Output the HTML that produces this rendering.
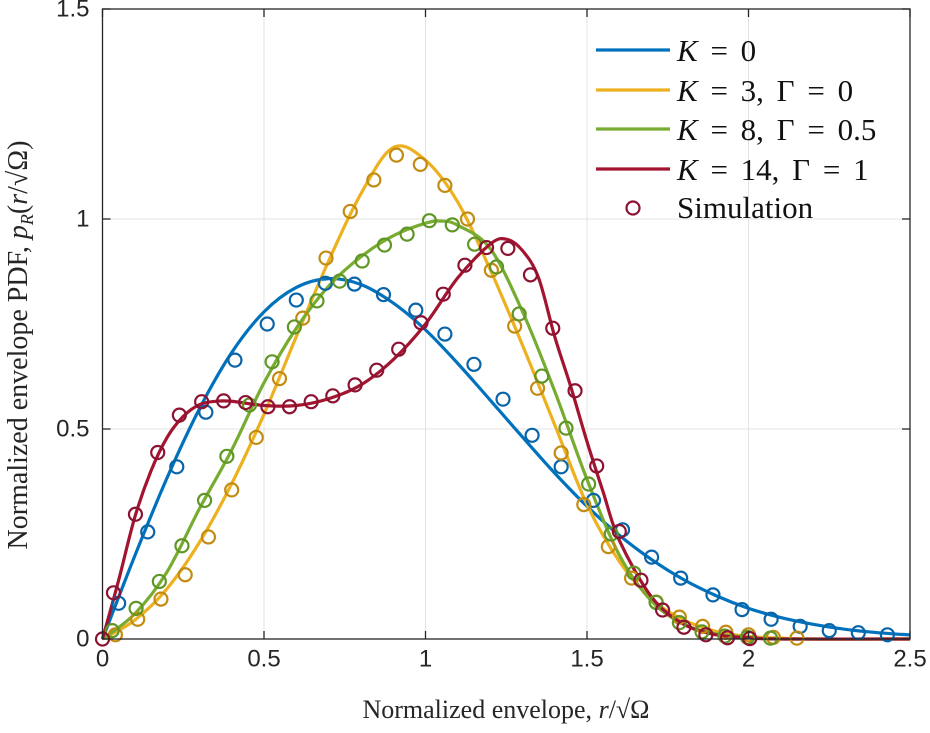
<!DOCTYPE html>
<html><head><meta charset="utf-8">
<style>
html,body{margin:0;padding:0;background:#fff;}
svg text{font-family:"Liberation Sans",sans-serif;}
svg text.serif, svg .serif text{font-family:"Liberation Serif",serif;}
</style></head>
<body>
<svg id="chart" width="930" height="728" viewBox="0 0 930 728" xmlns="http://www.w3.org/2000/svg">
<g id="grid"></g>
<g id="series"></g>
<g id="axes"></g>
</svg>
<script>
const xTicks=[0,0.5,1,1.5,2,2.5];
const xTickLabels=["0","0.5","1","1.5","2","2.5"];
const yTicks=[0,0.5,1,1.5];
const yTickLabels=["0","0.5","1","1.5"];

const blueX=[0,0.1,0.2,0.3,0.4,0.5,0.6,0.7,0.8,0.9,1.0,1.1,1.2,1.3,1.4,1.5,1.6,1.7,1.8,1.9,2.0,2.1,2.2,2.3,2.4,2.5];
const blueY=[0,0.198,0.384,0.548,0.682,0.779,0.837,0.858,0.844,0.800,0.736,0.656,0.569,0.481,0.395,0.316,0.247,0.189,0.141,0.103,0.073,0.051,0.035,0.023,0.015,0.0097];
const yellowX=[0,0.1,0.2,0.3,0.4,0.5,0.6,0.7,0.8,0.9,1.0,1.1,1.2,1.3,1.4,1.5,1.6,1.7,1.8,1.9,2.0,2.1,2.2,2.5];
const yellowY=[0,0.045,0.12,0.23,0.37,0.535,0.72,0.90,1.06,1.17,1.14,1.04,0.88,0.70,0.51,0.32,0.185,0.095,0.045,0.018,0.006,0.002,0,0];
const greenX=[0,0.1,0.2,0.3,0.4,0.5,0.6,0.7,0.8,0.9,1.0,1.05,1.1,1.2,1.3,1.4,1.5,1.6,1.7,1.8,1.9,2.0,2.1,2.5];
const greenY=[0,0.06,0.16,0.31,0.45,0.61,0.74,0.84,0.91,0.96,0.99,0.995,0.985,0.93,0.78,0.59,0.38,0.20,0.09,0.035,0.012,0.004,0,0];
const redX=[0,0.05,0.1,0.15,0.2,0.25,0.3,0.35,0.4,0.5,0.6,0.7,0.8,0.9,1.0,1.1,1.2,1.25,1.3,1.35,1.4,1.45,1.5,1.55,1.6,1.7,1.8,1.9,2.0,2.1,2.5];
const redY=[0,0.14,0.29,0.40,0.48,0.53,0.558,0.566,0.566,0.556,0.556,0.572,0.605,0.665,0.75,0.86,0.94,0.952,0.925,0.86,0.72,0.60,0.47,0.35,0.235,0.10,0.035,0.01,0.003,0,0];

const blueSimX=[0.05,0.14,0.23,0.32,0.41,0.51,0.60,0.69,0.78,0.87,0.97,1.06,1.15,1.24,1.33,1.42,1.52,1.61,1.70,1.79,1.89,1.98,2.07,2.16,2.25,2.34,2.43];
const blueSimY=[0.085,0.255,0.41,0.54,0.664,0.75,0.807,0.847,0.845,0.82,0.783,0.726,0.654,0.571,0.485,0.41,0.33,0.26,0.195,0.145,0.105,0.07,0.047,0.03,0.02,0.015,0.01];
const yellowSimX=[0.04,0.109,0.181,0.256,0.328,0.40,0.476,0.548,0.62,0.692,0.767,0.84,0.91,0.984,1.06,1.13,1.204,1.276,1.347,1.42,1.49,1.566,1.638,1.714,1.786,1.858,1.93,2.0,2.077,2.15];
const yellowSimY=[0.01,0.047,0.095,0.153,0.243,0.355,0.48,0.62,0.764,0.907,1.018,1.093,1.152,1.13,1.08,1.0,0.878,0.745,0.597,0.443,0.32,0.22,0.145,0.088,0.052,0.03,0.016,0.01,0.004,0.002];
const greenSimX=[0.03,0.104,0.176,0.246,0.316,0.385,0.455,0.525,0.594,0.664,0.734,0.804,0.873,0.943,1.012,1.083,1.152,1.22,1.29,1.36,1.435,1.505,1.575,1.645,1.714,1.786,1.856,1.927,1.997,2.068];
const greenSimY=[0.02,0.073,0.137,0.222,0.33,0.435,0.557,0.66,0.743,0.805,0.852,0.90,0.938,0.964,0.996,0.986,0.94,0.886,0.774,0.626,0.502,0.369,0.25,0.157,0.087,0.039,0.017,0.007,0.004,0.002];
const redSimX=[0,0.034,0.102,0.171,0.238,0.307,0.375,0.443,0.512,0.579,0.646,0.713,0.782,0.849,0.917,0.986,1.055,1.122,1.189,1.255,1.325,1.394,1.463,1.53,1.6,1.667,1.734,1.8,1.868,1.935,2.004];
const redSimY=[0,0.11,0.297,0.444,0.533,0.565,0.567,0.563,0.553,0.553,0.565,0.579,0.605,0.64,0.69,0.753,0.821,0.89,0.932,0.93,0.867,0.74,0.591,0.412,0.256,0.14,0.069,0.028,0.01,0.003,0.001];

const X0=102.5,X1=910,Y0=639,Y1=9;
const sx=v=>X0+(v/2.5)*(X1-X0);
const sy=v=>Y0-(v/1.5)*(Y0-Y1);
const NS="http://www.w3.org/2000/svg";
function mk(tag,parent,attrs){const e=document.createElementNS(NS,tag);for(const k in attrs)e.setAttribute(k,attrs[k]);parent.appendChild(e);return e;}

const grid=document.getElementById('grid');
xTicks.forEach((t,i)=>{if(i>0&&i<xTicks.length-1){const l=mk('line',grid,{x1:sx(t),x2:sx(t),y1:Y1,y2:Y0,stroke:'#e3e3e3','stroke-width':1});

}});
yTicks.forEach((t,i)=>{if(i>0&&i<yTicks.length-1){const l=mk('line',grid,{x1:X0,x2:X1,y1:sy(t),y2:sy(t),stroke:'#e3e3e3','stroke-width':1});

}});

function pathFrom(xs,ys){
  const p=xs.map((x,i)=>[sx(x),sy(ys[i])]);
  let d=`M${p[0][0]},${p[0][1]}`;
  for(let i=0;i<p.length-1;i++){
    const a=p[Math.max(0,i-1)],b=p[i],c=p[i+1],e=p[Math.min(p.length-1,i+2)];
    const c1=[b[0]+(c[0]-a[0])/6,b[1]+(c[1]-a[1])/6];
    const c2=[c[0]-(e[0]-b[0])/6,c[1]-(e[1]-b[1])/6];
    d+=` C${c1[0]},${c1[1]} ${c2[0]},${c2[1]} ${c[0]},${c[1]}`;
  }
  return d;
}
const ser=document.getElementById('series');
const lines=[[blueX,blueY,'#0072BD','curve-k0'],[yellowX,yellowY,'#EDB120','curve-k3'],[greenX,greenY,'#77AC30','curve-k8'],[redX,redY,'#A2142F','curve-k14']];
const sims=[[blueSimX,blueSimY,'#0a64a8','sim-k0'],[yellowSimX,yellowSimY,'#c28c12','sim-k3'],[greenSimX,greenSimY,'#5f9626','sim-k8'],[redSimX,redSimY,'#8c1232','sim-k14']];
lines.forEach(([xs,ys,c,n])=>{const p=mk('path',ser,{d:pathFrom(xs,ys),fill:'none',stroke:c,'stroke-width':3.2,'stroke-linejoin':'round'});

});
sims.forEach(([xs,ys,c,n])=>{xs.forEach((x,i)=>{const m=mk('circle',ser,{cx:sx(x),cy:sy(ys[i]),r:6.5,fill:'none',stroke:c,'stroke-width':2.2});

});});

const ax=document.getElementById('axes');
const box=mk('rect',ax,{x:X0,y:Y1,width:X1-X0,height:Y0-Y1,fill:'none',stroke:'#262626','stroke-width':1.3});


xTicks.forEach((t,i)=>{
  mk('line',ax,{x1:sx(t),x2:sx(t),y1:Y0,y2:Y0-8,stroke:'#262626','stroke-width':1.3});
  mk('line',ax,{x1:sx(t),x2:sx(t),y1:Y1,y2:Y1+8,stroke:'#262626','stroke-width':1.3});
  const tx=mk('text',ax,{x:sx(t),y:Y0+21,'text-anchor':'middle','dominant-baseline':'middle','font-size':24,fill:'#262626'});
  tx.textContent=xTickLabels[i];
  
  
});
yTicks.forEach((t,i)=>{
  mk('line',ax,{x1:X0,x2:X0+8,y1:sy(t),y2:sy(t),stroke:'#262626','stroke-width':1.3});
  mk('line',ax,{x1:X1,x2:X1-8,y1:sy(t),y2:sy(t),stroke:'#262626','stroke-width':1.3});
  const tx=mk('text',ax,{x:X0-13,y:sy(t)+1,'text-anchor':'end','dominant-baseline':'middle','font-size':24,fill:'#262626'});
  tx.textContent=yTickLabels[i];
  
  
});
</script>
<svg style="position:absolute;left:0;top:0" width="930" height="728">
<text class="serif" x="506" y="718" text-anchor="middle" font-size="26" fill="#262626" style="font-family:'Liberation Serif',serif">Normalized envelope, <tspan font-style="italic">r</tspan>/√Ω</text>
<text class="serif" transform="translate(27,345) rotate(-90)" text-anchor="middle" font-size="28" fill="#262626" style="font-family:'Liberation Serif',serif">Normalized envelope PDF, <tspan font-style="italic">p</tspan><tspan font-style="italic" font-size="18" dy="6">R</tspan><tspan dy="-6">(</tspan><tspan font-style="italic">r</tspan>/√Ω)</text>
<g class="serif" font-size="31" fill="#111" word-spacing="5">
<g><line x1="596" x2="670" y1="50" y2="50" stroke="#0072BD" stroke-width="3.2"/><text x="677" y="61" style="font-family:'Liberation Serif',serif"><tspan font-style="italic">K</tspan> =  0</text></g>
<g><line x1="596" x2="670" y1="90" y2="90" stroke="#EDB120" stroke-width="3.2"/><text x="677" y="101" style="font-family:'Liberation Serif',serif"><tspan font-style="italic">K</tspan> =  3, Γ = 0</text></g>
<g><line x1="596" x2="670" y1="129" y2="129" stroke="#77AC30" stroke-width="3.2"/><text x="677" y="140" style="font-family:'Liberation Serif',serif"><tspan font-style="italic">K</tspan> =  8, Γ = 0.5</text></g>
<g><line x1="596" x2="670" y1="169" y2="169" stroke="#A2142F" stroke-width="3.2"/><text x="677" y="180" style="font-family:'Liberation Serif',serif"><tspan font-style="italic">K</tspan> = 14, Γ = 1</text></g>
<g><circle cx="633" cy="208" r="6.5" fill="none" stroke="#8c1232" stroke-width="2.2"/><text x="677" y="218" style="font-family:'Liberation Serif',serif">Simulation</text></g>
</g>
</svg>
</body></html>
